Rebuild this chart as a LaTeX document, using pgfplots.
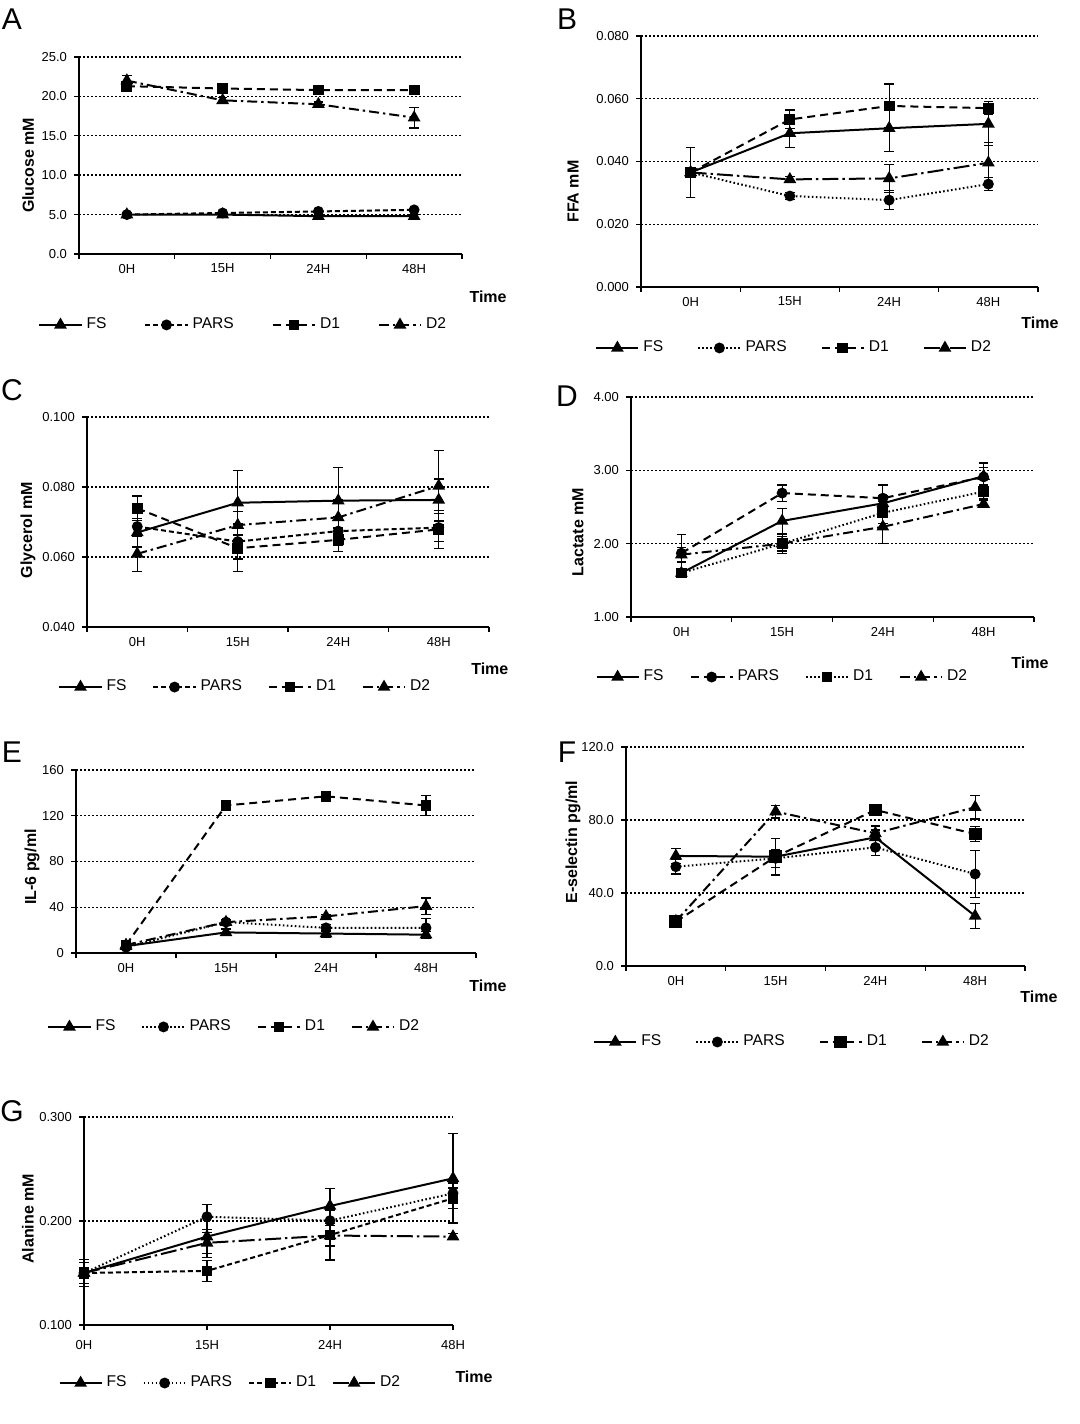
\documentclass[border=0pt]{standalone}
\usepackage{fontspec}
\setmainfont{Liberation Sans}
\usepackage{pgfplots}
\pgfplotsset{compat=1.18}
\pgfplotsset{
  panel/.style={
    scale only axis, clip=false,
    axis lines*=left,
    axis line style={black, line width=0.8pt},
    tick style={black, line width=0.7pt},
    tick align=outside,
    major tick length=2.5pt,
    ymajorgrids,
    grid style={black, line width=0.7pt, dash pattern=on 1pt off 1pt},
    ticklabel style={font=\fontsize{6.5}{7}\selectfont},
    xticklabel style={yshift=-1.5pt},
    /pgf/number format/assume math mode=true,
    scaled y ticks=false,
    xlabel={Time},
    xlabel style={font=\bfseries\fontsize{8}{9}\selectfont, anchor=center},
    ylabel style={font=\bfseries\fontsize{8}{9}\selectfont, anchor=center},
    legend columns=4,
    legend cell align=left,
    legend style={draw=none, fill=none, inner sep=0pt, anchor=west,
      font=\fontsize{7.8}{8}\selectfont},
    legend image code/.code={\draw[mark repeat=2,mark phase=2,##1] plot coordinates {(0cm,0cm) (0.37cm,0cm) (0.74cm,0cm)};},
  },
  lsep/.style={legend style={/tikz/every even column/.append style={column sep=#1}}},
  cat/.style={xmin=0, xmax=4, xtick={0,1,2,3,4}, xticklabels={},
    extra x ticks={0.5,1.5,2.5,3.5}, extra x tick labels={0H,15H,24H,48H},
    extra x tick style={major tick length=0pt}},
  fmt/.style={yticklabel style={/pgf/number format/fixed, /pgf/number format/fixed zerofill, /pgf/number format/precision=#1}},
  ser/.style={black, line width=1pt, mark options={solid, fill=black},
    /pgfplots/error bars/y dir=both, /pgfplots/error bars/y explicit,
    /pgfplots/error bars/error bar style={line width=0.6pt, solid, black},
    /pgfplots/error bars/error mark options={rotate=90, mark size=2.4pt, line width=0.6pt, solid, black}},
  fs/.style={ser, solid, mark=triangle*, mark size=2.7pt},
  pars/.style={ser, mark=*, mark size=2.2pt},
  d1/.style={ser, mark=square*, mark size=2.2pt},
  d2/.style={ser, mark=triangle*, mark size=2.7pt},
  dsh/.style={dash pattern=on 4pt off 2.5pt},
  sdsh/.style={dash pattern=on 2.5pt off 1.5pt},
  dot/.style={dash pattern=on 0.8pt off 1.2pt},
  dd/.style={dash pattern=on 5pt off 2pt on 1.2pt off 2pt},
  ldd/.style={dash pattern=on 8pt off 2pt on 1.2pt off 2pt},
}
\begin{document}
\begin{tikzpicture}
\path[use as bounding box] (0,0) rectangle (540pt,712pt);
% ---------------- A
\begin{axis}[panel, cat, lsep=17pt, at={(39.5pt,585pt)}, anchor=south west, width=191.5pt, height=98.5pt,
  ymin=0, ymax=25, ytick={0,5,...,25}, fmt=1, ylabel={Glucose mM},
  ylabel style={at={(axis description cs:-0.133,0.45)}},
  xlabel style={at={(axis description cs:1.068,-0.218)}},
  legend style={at={(-0.107,-0.36)}}]
\addplot[fs] coordinates {(0.5,5.0)+-(0,0.2) (1.5,5.0)+-(0,0.2) (2.5,4.8)+-(0,0.2) (3.5,4.8)+-(0,0.2)};
\addplot[pars, sdsh] coordinates {(0.5,5.0)+-(0,0.2) (1.5,5.2)+-(0,0.2) (2.5,5.4)+-(0,0.2) (3.5,5.6)+-(0,0.2)};
\addplot[d1, dsh] coordinates {(0.5,21.3)+-(0,0.3) (1.5,21.0)+-(0,0.3) (2.5,20.8)+-(0,0.3) (3.5,20.8)+-(0,0.3)};
\addplot[d2, dd] coordinates {(0.5,22.0)+-(0,0.7) (1.5,19.5)+-(0,0.4) (2.5,19.0)+-(0,0.3) (3.5,17.3)+-(0,1.3)};
\legend{FS,PARS,D1,D2}
\end{axis}
% ---------------- B
\begin{axis}[panel, cat, lsep=15pt, at={(320.5pt,568.5pt)}, anchor=south west, width=198.5pt, height=125.5pt,
  ymin=0, ymax=0.08, ytick={0,0.02,0.04,0.06,0.08}, fmt=3, ylabel={FFA mM},
  ylabel style={at={(axis description cs:-0.171,0.38)}},
  xlabel style={at={(axis description cs:1.005,-0.143)}},
  legend style={at={(-0.116,-0.243)}}]
\addplot[fs] coordinates {(0.5,0.0365)+-(0,0.008) (1.5,0.0490)+-(0,0.0045) (2.5,0.0506)+-(0,0.0075) (3.5,0.0520)+-(0,0.007)};
\addplot[pars, dot] coordinates {(0.5,0.0365)+-(0,0.008) (1.5,0.0290)+-(0,0.001) (2.5,0.0277)+-(0,0.003) (3.5,0.0328)+-(0,0.002)};
\addplot[d1, dsh] coordinates {(0.5,0.0365)+-(0,0.008) (1.5,0.0534)+-(0,0.003) (2.5,0.0577)+-(0,0.007) (3.5,0.0570)+-(0,0.002)};
\addplot[d2, ldd] coordinates {(0.5,0.0365)+-(0,0.008) (1.5,0.0343)+-(0,0.001) (2.5,0.0346)+-(0,0.0045) (3.5,0.0396)+-(0,0.0065)};
\legend{FS,PARS,D1,D2}
\end{axis}
% ---------------- C
\begin{axis}[panel, cat, lsep=11pt, at={(43.5pt,398.5pt)}, anchor=south west, width=201pt, height=105pt,
  ymin=0.04, ymax=0.1, ytick={0.04,0.06,0.08,0.1}, fmt=3, ylabel={Glycerol mM},
  ylabel style={at={(axis description cs:-0.147,0.46)}},
  xlabel style={at={(axis description cs:1.002,-0.2)}},
  legend style={at={(-0.072,-0.286)}}]
\addplot[fs] coordinates {(0.5,0.0670)+-(0,0.004) (1.5,0.0755)+-(0,0.0092) (2.5,0.0761)+-(0,0.0094) (3.5,0.0763)+-(0,0.006)};
\addplot[pars, sdsh] coordinates {(0.5,0.0687)+-(0,0.006) (1.5,0.0644)+-(0,0.005) (2.5,0.0674)+-(0,0.004) (3.5,0.0684)+-(0,0.004)};
\addplot[d1, dsh] coordinates {(0.5,0.0739)+-(0,0.0035) (1.5,0.0625)+-(0,0.0067) (2.5,0.0649)+-(0,0.0034) (3.5,0.0679)+-(0,0.0054)};
\addplot[d2, dd] coordinates {(0.5,0.0609)+-(0,0.0051) (1.5,0.0691)+-(0,0.004) (2.5,0.0713)+-(0,0.005) (3.5,0.0803)+-(0,0.0101)};
\legend{FS,PARS,D1,D2}
\end{axis}
% ---------------- D
\begin{axis}[panel, cat, lsep=11pt, at={(315.5pt,403.5pt)}, anchor=south west, width=201.5pt, height=110pt,
  ymin=1, ymax=4, ytick={1,2,3,4}, fmt=2, ylabel={Lactate mM},
  ylabel style={at={(axis description cs:-0.1315,0.386)}},
  xlabel style={at={(axis description cs:0.99,-0.209)}},
  legend style={at={(-0.089,-0.273)}}]
\addplot[fs] coordinates {(0.5,1.60)+-(0,0.05) (1.5,2.31)+-(0,0.17) (2.5,2.55)+-(0,0.10) (3.5,2.92)+-(0,0.12)};
\addplot[pars, dsh] coordinates {(0.5,1.87)+-(0,0.25) (1.5,2.69)+-(0,0.11) (2.5,2.62)+-(0,0.18) (3.5,2.91)+-(0,0.19)};
\addplot[d1, dot] coordinates {(0.5,1.60)+-(0,0.05) (1.5,2.00)+-(0,0.13) (2.5,2.42)+-(0,0.15) (3.5,2.71)+-(0,0.10)};
\addplot[d2, dd] coordinates {(0.5,1.85)+-(0,0.10) (1.5,2.00)+-(0,0.10) (2.5,2.23)+-(0,0.23) (3.5,2.54)+-(0,0.05)};
\legend{FS,PARS,D1,D2}
\end{axis}
% ---------------- E
\begin{axis}[panel, cat, lsep=11pt, at={(38pt,235.5pt)}, anchor=south west, width=200pt, height=91.5pt,
  ymin=0, ymax=160, ytick={0,40,80,120,160}, ylabel={IL-6 pg/ml},
  ylabel style={at={(axis description cs:-0.11,0.47)}},
  xlabel style={at={(axis description cs:1.03,-0.18)}},
  legend style={at={(-0.0725,-0.404)}}]
\addplot[fs] coordinates {(0.5,6)+-(0,1) (1.5,18)+-(0,3) (2.5,17)+-(0,3) (3.5,16)+-(0,3)};
\addplot[pars, dot] coordinates {(0.5,5)+-(0,1) (1.5,27)+-(0,2) (2.5,22)+-(0,3) (3.5,22)+-(0,8)};
\addplot[d1, dsh] coordinates {(0.5,7)+-(0,1) (1.5,129)+-(0,2) (2.5,137)+-(0,2) (3.5,129)+-(0,9)};
\addplot[d2, dd] coordinates {(0.5,7)+-(0,1) (1.5,27)+-(0,2) (2.5,32)+-(0,2) (3.5,41)+-(0,7)};
\legend{FS,PARS,D1,D2}
\end{axis}
% ---------------- F
\begin{axis}[panel, cat, lsep=15pt, at={(313pt,229pt)}, anchor=south west, width=199.5pt, height=109.5pt,
  ymin=0, ymax=120, ytick={0,40,80,120}, fmt=1, ylabel={E-selectin pg/ml},
  ylabel style={at={(axis description cs:-0.133,0.566)}},
  xlabel style={at={(axis description cs:1.035,-0.142)}},
  legend style={at={(-0.083,-0.347)}}]
\addplot[fs] coordinates {(0.5,60.3)+-(0,4) (1.5,59.9)+-(0,10) (2.5,70.5)+-(0,4) (3.5,27.4)+-(0,7)};
\addplot[pars, dot] coordinates {(0.5,54.4)+-(0,4) (1.5,59.0)+-(0,5) (2.5,65.0)+-(0,4.5) (3.5,50.4)+-(0,13)};
\addplot[d1, dsh, mark size=2.7pt] coordinates {(0.5,24.3)+-(0,1) (1.5,59.9)+-(0,3) (2.5,85.5)+-(0,3) (3.5,72.3)+-(0,4)};
\addplot[d2, dd] coordinates {(0.5,24.5)+-(0,1) (1.5,84.6)+-(0,3.5) (2.5,72.7)+-(0,4) (3.5,87.0)+-(0,6.5)};
\legend{FS,PARS,D1,D2}
\end{axis}
% ---------------- G
\begin{axis}[panel, lsep=6pt, at={(42pt,49.5pt)}, anchor=south west, width=184.5pt, height=104pt,
  xmin=0, xmax=3, xtick={0,1,2,3}, xticklabels={0H,15H,24H,48H},
  ymin=0.1, ymax=0.3, ytick={0.1,0.2,0.3}, fmt=3, ylabel={Alanine mM},
  ylabel style={at={(axis description cs:-0.152,0.51)}},
  xlabel style={at={(axis description cs:1.057,-0.25)}},
  legend style={at={(-0.07,-0.279)}}]
\addplot[fs] coordinates {(0,0.150)+-(0,0.013) (1,0.185)+-(0,0.02) (2,0.2144)+-(0,0.017) (3,0.2410)+-(0,0.043)};
\addplot[pars, dot] coordinates {(0,0.150)+-(0,0.013) (1,0.2041)+-(0,0.012) (2,0.2003)+-(0,0.01) (3,0.2266)+-(0,0.01)};
\addplot[d1, sdsh] coordinates {(0,0.150)+-(0,0.01) (1,0.152)+-(0,0.01) (2,0.1865)+-(0,0.024) (3,0.2218)+-(0,0.01)};
\addplot[d2, ldd] coordinates {(0,0.150)+-(0,0.005) (1,0.179)+-(0,0.01) (2,0.186)+-(0,0.01) (3,0.185)+-(0,0.003)};
\legend{FS,PARS,D1,D2}
\end{axis}
% panel letters
\node[font=\fontsize{15}{16}\selectfont] at (6pt,702.5pt) {A};
\node[font=\fontsize{15}{16}\selectfont] at (283.5pt,702.5pt) {B};
\node[font=\fontsize{15}{16}\selectfont] at (6pt,517pt) {C};
\node[font=\fontsize{15}{16}\selectfont] at (283.5pt,514pt) {D};
\node[font=\fontsize{15}{16}\selectfont] at (6pt,336pt) {E};
\node[font=\fontsize{15}{16}\selectfont] at (283.5pt,336pt) {F};
\node[font=\fontsize{15}{16}\selectfont] at (6pt,156.5pt) {G};
\end{tikzpicture}
\end{document}
